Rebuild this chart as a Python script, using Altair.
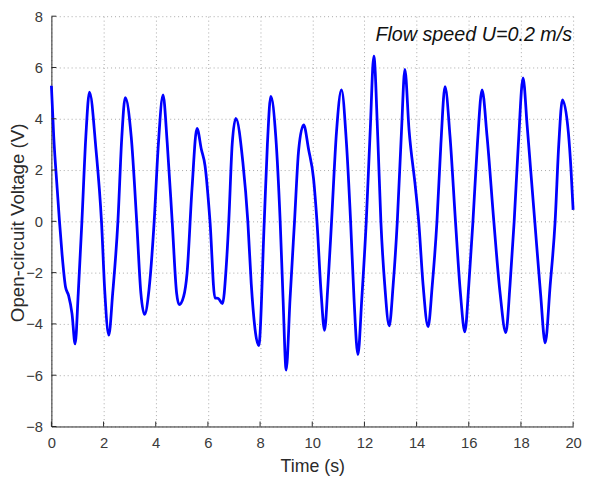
import altair as alt
import pandas as pd

time_s = [0.00, 0.09, 0.22, 0.31, 0.41, 0.54, 0.66, 0.79, 0.91, 1.03, 1.17, 1.32, 1.46, 1.71, 1.92,
          2.05, 2.20, 2.35, 2.55, 2.70, 2.83, 3.06, 3.27, 3.43, 3.57, 3.74, 3.94, 4.10, 4.28, 4.44,
          4.63, 4.80, 4.90, 5.07, 5.20, 5.39, 5.58, 5.75, 5.89, 6.08, 6.27, 6.39, 6.56, 6.70, 6.80,
          6.93, 7.07, 7.34, 7.53, 7.66, 7.95, 8.16, 8.28, 8.41, 8.60, 8.77, 8.88, 9.00, 9.15, 9.32,
          9.48, 9.67, 9.86, 10.05, 10.18, 10.34, 10.47, 10.60, 10.74, 10.93, 11.12, 11.31, 11.47,
          11.60, 11.75, 11.90, 12.07, 12.22, 12.36, 12.51, 12.63, 12.78, 12.95, 13.10, 13.26, 13.42,
          13.55, 13.71, 13.96, 14.08, 14.25, 14.44, 14.60, 14.78, 14.93, 15.09, 15.28, 15.49, 15.68,
          15.85, 16.00, 16.16, 16.33, 16.51, 16.70, 16.96, 17.20, 17.42, 17.58, 17.74, 17.90, 18.08,
          18.24, 18.37, 18.53, 18.75, 18.93, 19.12, 19.31, 19.45, 19.59, 19.82, 19.92, 20.00]
voltage = [5.29, 3.3, 1.3, 0.0, -1.3, -2.55, -2.9, -3.6, -4.78, -2.8, 0.0, 3.3, 5.04, 2.8, 0.0,
           -2.8, -4.44, -2.8, 0.0, 3.3, 4.82, 3.3, 0.0, -2.8, -3.63, -2.68, 0.0, 3.0, 4.93, 3.06,
           0.0, -2.8, -3.25, -2.93, -2.03, 1.27, 3.63, 2.80, 2.17, 0.0, -2.99, -3.0, -3.21, -1.8, 0.0,
           3.0, 4.02, 2.3, 0.0, -2.42, -4.85, 0.0, 3.0, 4.87, 3.32, 0.0, -3.0, -5.80, -3.0, 0.0,
           2.8, 3.76, 2.80, 1.66, 0.0, -2.8, -4.25, -2.5, 0.0, 3.5, 5.13, 3.06, 0.0,
           -3.0, -5.20, -3.0, 0.0, 3.5, 6.44, 3.32, 0.0, -2.5, -4.08, -2.5, 0.0, 3.5,
           5.93, 3.57, 1.27, 0.0, -2.5, -4.11, -2.5, 0.0, 3.0, 5.25, 3.32, 0.0, -2.8,
           -4.31, -2.5, 0.0, 3.0, 5.13, 3.32, 0.0, -2.8, -4.34, -2.5, 0.0, 3.0, 5.59,
           3.70, 2.04, 0.0, -2.8, -4.74, -2.5, 0.0, 3.0, 4.74, 3.44, 2.0, 0.45]

x_ticks = [0, 2, 4, 6, 8, 10, 12, 14, 16, 18, 20]
y_ticks = [-8, -6, -4, -2, 0, 2, 4, 6, 8]
annotation = "Flow speed U=0.2 m/s"

W, H = 529, 416
FONT = "Liberation Sans"
AX = "#262626"

df = pd.DataFrame({"t": time_s, "v": voltage})
xs = alt.Scale(domain=[0, 20], nice=False, zero=False)
ys = alt.Scale(domain=[-8, 8], nice=False, zero=False)

line = alt.Chart(df).mark_line(color="#0000ff", strokeWidth=2.8, interpolate="monotone").encode(
    x=alt.X("t:Q", scale=xs, title="Time (s)",
            axis=alt.Axis(values=x_ticks, labelFontSize=15, titleFontSize=18, labelPadding=9,
                          titlePadding=8, tickSize=0, ticks=False, labelFlush=False)),
    y=alt.Y("v:Q", scale=ys, title="Open-circuit Voltage (V)",
            axis=alt.Axis(values=y_ticks, labelFontSize=15, titleFontSize=19, labelPadding=9,
                          tickSize=0, ticks=False, labelFlush=False,
                          titleX=-34, titleY=H / 2 + 1, titleAngle=-90,
                          titleAlign="center", titleBaseline="middle")),
)

xt = alt.Chart(pd.DataFrame({"t": x_ticks})).mark_rule(color=AX, strokeWidth=1).encode(
    x=alt.X("t:Q", scale=xs), y=alt.value(H), y2=alt.value(H - 5))
yt = alt.Chart(pd.DataFrame({"v": y_ticks})).mark_rule(color=AX, strokeWidth=1).encode(
    y=alt.Y("v:Q", scale=ys), x=alt.value(0), x2=alt.value(5))

txt = alt.Chart(pd.DataFrame({"s": [annotation]})).mark_text(
    align="right", baseline="middle", fontSize=20, fontStyle="italic", font=FONT, color="#111"
).encode(x=alt.value(W - 1), y=alt.value(19), text="s:N")

chart = (line + xt + yt + txt).properties(
    width=W, height=H,
    autosize=alt.AutoSizeParams(type="none"),
    padding={"left": 44, "top": 5, "right": 9, "bottom": 55},
).configure_view(stroke=None).configure_axis(
    labelFont=FONT, titleFont=FONT, labelColor="#3a3a3a", titleColor="#2a2a2a",
    titleFontWeight="normal", domainColor=AX, domainWidth=1,
    grid=True, gridColor="#a8a8a8", gridDash=[1, 3], gridWidth=1,
)

chart.save("out.html", embed_options={"renderer": "svg", "actions": False})
